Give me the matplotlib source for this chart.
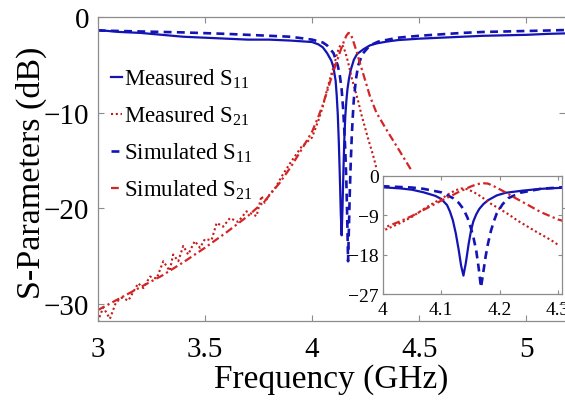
import matplotlib
matplotlib.use("Agg")
import matplotlib.pyplot as plt

plt.rcParams['font.family'] = ['Liberation Serif', 'DejaVu Serif']
plt.rcParams['mathtext.fontset'] = 'custom'
plt.rcParams['mathtext.rm'] = 'Liberation Serif'
plt.rcParams['mathtext.it'] = 'Liberation Serif:italic'

# Measured S11
f_m11 = [3.00, 3.10, 3.20, 3.30, 3.40, 3.50, 3.60, 3.70, 3.80, 3.90, 4.00, 4.03,
         4.05, 4.07, 4.09, 4.10, 4.11, 4.115, 4.12, 4.125, 4.13, 4.134, 4.138,
         4.142, 4.147, 4.151, 4.155, 4.16, 4.165, 4.172, 4.18, 4.195, 4.21, 4.24,
         4.27, 4.30, 4.35, 4.40, 4.50, 4.60, 4.70, 4.80, 4.90, 5.00, 5.10, 5.18]
s_m11 = [-1.4, -1.6, -1.7, -1.9, -2.1, -2.2, -2.3, -2.4, -2.4, -2.5, -2.65, -2.9,
         -3.2, -3.8, -4.6, -5.3, -6.7, -8.2, -10.2, -13.2, -17.0, -20.5, -22.8,
         -20.0, -15.5, -12.5, -10.4, -8.8, -7.6, -6.5, -5.6, -4.5, -3.9, -3.4,
         -3.0, -2.8, -2.6, -2.45, -2.3, -2.2, -2.1, -2.0, -1.95, -1.9, -1.8, -1.75]

# Measured S21
f_m21 = [3.000, 3.026, 3.057, 3.085, 3.112, 3.143, 3.189, 3.213, 3.244, 3.275,
         3.306, 3.336, 3.352, 3.376, 3.399, 3.422, 3.453, 3.477, 3.500, 3.531,
         3.555, 3.585, 3.617, 3.655, 3.694, 3.741, 3.764, 3.779, 3.803, 3.83,
         3.86, 3.90, 3.95, 4.00, 4.03, 4.05, 4.07, 4.09, 4.10, 4.115, 4.125,
         4.135, 4.145, 4.155, 4.165, 4.175, 4.185, 4.20, 4.215, 4.23, 4.25,
         4.265, 4.28, 4.29, 4.30]
s_m21 = [-31.8, -30.3, -31.5, -29.8, -29.3, -29.6, -27.8, -28.3, -27.1, -27.3,
         -25.5, -26.5, -24.8, -25.5, -23.9, -24.8, -23.4, -24.1, -23.2, -23.3,
         -21.5, -21.9, -21.0, -21.4, -20.3, -20.8, -18.7, -19.4, -18.5, -17.8,
         -16.6, -15.2, -13.6, -12.6, -10.8, -9.4, -7.6, -6.0, -5.3, -4.0, -3.3,
         -2.9, -3.1, -3.7, -4.5, -5.4, -6.4, -7.6, -8.8, -10.2, -11.8,
         -13.0, -14.1, -14.9, -15.8]

# Simulated S11
f_s11 = [3.00, 3.20, 3.40, 3.60, 3.80, 3.90, 4.00, 4.05, 4.07, 4.10, 4.12, 4.13,
         4.138, 4.145, 4.15, 4.155, 4.16, 4.164, 4.168, 4.172, 4.176, 4.18, 4.185,
         4.19, 4.195, 4.205, 4.215, 4.235, 4.27, 4.31, 4.40, 4.50, 4.60, 4.70,
         4.80, 4.90, 5.00, 5.10, 5.18]
s_s11 = [-1.45, -1.55, -1.65, -1.8, -2.0, -2.1, -2.4, -2.7, -3.0, -3.8, -5.1, -6.2,
         -7.6, -9.6, -11.6, -14.0, -17.2, -21.0, -25.5, -22.0, -18.4, -15.5, -12.6,
         -10.4, -8.6, -6.5, -5.1, -3.9, -3.0, -2.6, -2.2, -2.0, -1.85, -1.7,
         -1.6, -1.55, -1.5, -1.45, -1.4]

# Simulated S21
f_s21 = [3.00, 3.10, 3.20, 3.30, 3.40, 3.50, 3.60, 3.70, 3.78, 3.85, 3.90, 3.95,
         4.00, 4.03, 4.05, 4.07, 4.09, 4.10, 4.12, 4.13, 4.14, 4.15, 4.16, 4.17,
         4.18, 4.19, 4.20, 4.21, 4.22, 4.235, 4.25, 4.27, 4.30, 4.35, 4.40, 4.46]
s_s21 = [-30.6, -29.4, -28.2, -27.0, -25.6, -24.1, -22.5, -20.8, -19.2, -17.3, -15.7, -13.9,
         -12.0, -10.4, -9.2, -7.8, -6.4, -5.7, -4.4, -3.7, -3.1, -2.5, -2.0, -1.7,
         -1.8, -2.4, -3.1, -3.8, -4.6, -5.7, -6.8, -8.3, -10.0, -11.9, -13.7, -15.9]

labels = ['Measured S$_{11}$', 'Measured S$_{21}$',
          'Simulated S$_{11}$', 'Simulated S$_{21}$']
main_xticks = [3, 3.5, 4, 4.5, 5]
main_yticks = [0, -10, -20, -30]
inset_xticks = [4, 4.1, 4.2, 4.3]
inset_yticks = [0, -9, -18, -27]

blue = '#1414b4'
red_dot = '#c41a1a'
red_dd = '#d42424'
grey = '#8c8c8c'


def draw_curves(ax):
    ax.plot(f_m11, s_m11, color=blue, lw=1.6, ls='-', label=labels[0])
    ax.plot(f_m21, s_m21, color=red_dot, lw=1.5, ls=(0, (1, 1.3)), label=labels[1])
    ax.plot(f_s11, s_s11, color=blue, lw=1.9, ls=(0, (3, 2)), label=labels[2])
    ax.plot(f_s21, s_s21, color=red_dd, lw=1.6, ls=(0, (3.5, 1.5, 1, 1.5)), label=labels[3])


def style_axes(ax, size, pad):
    for sp in ax.spines.values():
        sp.set_color(grey)
        sp.set_linewidth(0.9)
    ax.tick_params(direction='in', top=True, right=True, color=grey,
                   length=4, width=0.8, labelsize=size, pad=pad)


fig = plt.figure(figsize=(5.65, 4.02), dpi=100)
ax = fig.add_axes([97.7 / 565, 1 - 321.7 / 402, 1 - 97.7 / 565, (321.7 - 17.6) / 402])
draw_curves(ax)
ax.set_xlim(3, 5.18)
ax.set_ylim(-31.7, 0)
ax.set_xticks(main_xticks)
ax.set_xticklabels([str(t) for t in main_xticks])
ax.set_yticks(main_yticks)
style_axes(ax, 21, 6)
ax.tick_params(axis='x', pad=11)
ax.spines['right'].set_visible(False)
ax.set_xlabel('Frequency (GHz)', fontsize=24)
ax.xaxis.set_label_coords(0.5, -0.19)
ax.xaxis.label.set_va('center')
ax.set_ylabel('S-Parameters (dB)', fontsize=24.5)
ax.yaxis.set_label_coords(-0.141, 0.49)
ax.yaxis.label.set_va('center')

leg = ax.legend(loc='upper left', bbox_to_anchor=(0.0, 0.88), frameon=False,
                fontsize=16.5, handlelength=0.45, handletextpad=0.08,
                labelspacing=0.6, borderaxespad=0.2)

# inset zoom of the resonance
axin = fig.add_axes([382.7 / 565, 1 - 295 / 402, 179 / 565, 118.3 / 402])
draw_curves(axin)
axin.set_xlim(4, 4.306)
axin.set_ylim(-27, 0)
axin.set_xticks(inset_xticks)
axin.set_xticklabels([str(t) for t in inset_xticks])
axin.set_yticks(inset_yticks)
style_axes(axin, 14, 3)
axin.tick_params(length=3)
axin.tick_params(axis='x', pad=5)

fig.savefig('out.png', dpi=100)
